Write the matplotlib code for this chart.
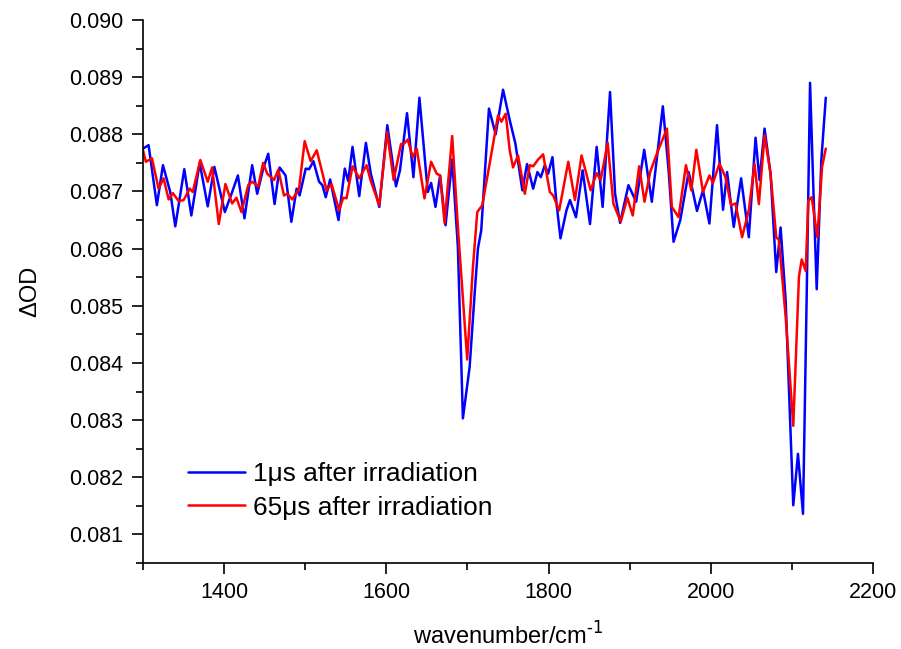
import matplotlib
matplotlib.use("Agg")
import matplotlib.pyplot as plt
from matplotlib.ticker import MultipleLocator, FormatStrFormatter

plt.rcParams['font.family'] = ['Liberation Sans', 'DejaVu Sans']

# 1 us after irradiation (blue)
wn_1us = [1300.0, 1306.9, 1317.1, 1324.6, 1333.6, 1339.8, 1350.9, 1359.6, 1369.9, 1379.8,
          1388.0, 1400.9, 1409.9, 1417.0, 1425.1, 1434.6, 1440.8, 1448.2, 1454.4, 1462.2,
          1468.4, 1475.8, 1482.9, 1489.4, 1493.1, 1500.6, 1504.8, 1510.1, 1517.1, 1521.2,
          1525.3, 1530.7, 1541.0, 1548.8, 1553.0, 1558.3, 1566.6, 1574.8, 1580.9, 1591.3,
          1601.2, 1611.9, 1616.8, 1625.5, 1633.4, 1640.8, 1651.1, 1655.2, 1660.6, 1666.3,
          1673.0, 1681.2, 1688.2, 1694.4, 1702.7, 1708.9, 1712.9, 1717.0, 1726.5, 1734.8,
          1743.9, 1752.1, 1759.1, 1767.7, 1773.5, 1781.0, 1786.3, 1790.5, 1795.4, 1799.5,
          1804.8, 1809.8, 1814.7, 1822.1, 1826.4, 1833.8, 1842.0, 1851.1, 1859.3, 1866.7,
          1875.8, 1882.0, 1888.2, 1898.5, 1908.0, 1917.9, 1927.3, 1940.9, 1948.0, 1954.1,
          1962.4, 1972.7, 1983.0, 1990.4, 1998.3, 2007.7, 2015.1, 2020.1, 2028.3, 2037.4,
          2046.9, 2055.2, 2060.1, 2066.3, 2073.7, 2080.7, 2086.1, 2092.3, 2101.7, 2107.5,
          2113.7, 2118.3, 2122.4, 2126.4, 2130.6, 2136.3, 2141.8]
od_1us = [0.08775, 0.08781, 0.08676, 0.08746, 0.08699, 0.08639, 0.08739, 0.08658, 0.08750, 0.08674,
          0.08743, 0.08664, 0.08699, 0.08728, 0.08653, 0.08746, 0.08696, 0.08740, 0.08766, 0.08678,
          0.08742, 0.08728, 0.08647, 0.08705, 0.08693, 0.08740, 0.08739, 0.08753, 0.08717, 0.08711,
          0.08690, 0.08721, 0.08650, 0.08740, 0.08718, 0.08778, 0.08692, 0.08785, 0.08731, 0.08673,
          0.08816, 0.08709, 0.08737, 0.08837, 0.08725, 0.08864, 0.08699, 0.08715, 0.08673, 0.08728,
          0.08641, 0.08756, 0.08603, 0.08303, 0.08393, 0.08522, 0.08600, 0.08632, 0.08845, 0.08800,
          0.08878, 0.08825, 0.08784, 0.08702, 0.08748, 0.08705, 0.08734, 0.08725, 0.08746, 0.08731,
          0.08760, 0.08679, 0.08618, 0.08667, 0.08685, 0.08655, 0.08737, 0.08643, 0.08778, 0.08673,
          0.08874, 0.08696, 0.08645, 0.08711, 0.08682, 0.08773, 0.08682, 0.08849, 0.08737, 0.08612,
          0.08650, 0.08734, 0.08666, 0.08702, 0.08644, 0.08816, 0.08668, 0.08734, 0.08638, 0.08723,
          0.08620, 0.08794, 0.08720, 0.08810, 0.08731, 0.08559, 0.08637, 0.08510, 0.08151, 0.08241,
          0.08136, 0.08522, 0.08890, 0.08708, 0.08529, 0.08755, 0.08864]

# 65 us after irradiation (red)
wn_65us = [1300.0, 1303.5, 1311.0, 1319.2, 1325.4, 1331.6, 1336.9, 1344.0, 1350.1, 1357.6,
           1361.3, 1370.7, 1379.8, 1385.2, 1393.4, 1401.6, 1409.9, 1415.2, 1421.4, 1429.7,
           1434.6, 1442.1, 1448.1, 1453.2, 1461.5, 1466.8, 1473.8, 1477.9, 1484.1, 1492.4,
           1499.3, 1506.7, 1514.2, 1523.3, 1526.2, 1532.4, 1541.9, 1546.8, 1550.9, 1558.3,
           1566.6, 1575.6, 1580.9, 1591.3, 1601.0, 1609.0, 1618.1, 1621.4, 1626.4, 1632.5,
           1637.5, 1647.0, 1655.2, 1662.2, 1666.3, 1671.8, 1681.2, 1688.2, 1699.7, 1706.8,
           1712.1, 1718.3, 1727.4, 1737.7, 1741.8, 1747.2, 1752.1, 1756.2, 1762.4, 1770.7,
           1776.9, 1781.0, 1787.2, 1793.3, 1801.6, 1805.7, 1813.1, 1824.3, 1832.5, 1840.7,
           1851.9, 1859.3, 1864.2, 1872.9, 1879.9, 1889.0, 1897.2, 1903.8, 1911.7, 1918.3,
           1925.3, 1933.5, 1945.9, 1952.0, 1960.3, 1969.4, 1976.0, 1982.2, 1990.4, 1998.3,
           2002.7, 2010.7, 2018.1, 2025.0, 2030.5, 2038.6, 2046.9, 2054.0, 2059.3, 2066.3,
           2073.7, 2080.7, 2084.0, 2092.3, 2101.7, 2108.7, 2112.1, 2117.0, 2120.3, 2124.4,
           2131.4, 2137.2, 2141.8]
od_65us = [0.08772, 0.08752, 0.08758, 0.08705, 0.08723, 0.08686, 0.08697, 0.08683, 0.08685, 0.08705,
           0.08699, 0.08755, 0.08717, 0.08742, 0.08643, 0.08713, 0.08679, 0.08689, 0.08664, 0.08711,
           0.08717, 0.08709, 0.08750, 0.08731, 0.08720, 0.08738, 0.08693, 0.08696, 0.08686, 0.08705,
           0.08788, 0.08753, 0.08772, 0.08720, 0.08702, 0.08713, 0.08667, 0.08689, 0.08688, 0.08744,
           0.08723, 0.08746, 0.08718, 0.08676, 0.08804, 0.08720, 0.08783, 0.08783, 0.08791, 0.08760,
           0.08775, 0.08688, 0.08752, 0.08731, 0.08728, 0.08645, 0.08797, 0.08638, 0.08406, 0.08568,
           0.08664, 0.08676, 0.08749, 0.08833, 0.08822, 0.08836, 0.08772, 0.08742, 0.08763, 0.08696,
           0.08746, 0.08744, 0.08756, 0.08765, 0.08699, 0.08693, 0.08667, 0.08752, 0.08685, 0.08763,
           0.08702, 0.08732, 0.08720, 0.08785, 0.08679, 0.08647, 0.08689, 0.08658, 0.08744, 0.08682,
           0.08734, 0.08766, 0.08810, 0.08673, 0.08655, 0.08746, 0.08702, 0.08773, 0.08699, 0.08728,
           0.08715, 0.08749, 0.08725, 0.08676, 0.08679, 0.08620, 0.08667, 0.08748, 0.08678, 0.08798,
           0.08731, 0.08620, 0.08615, 0.08481, 0.08290, 0.08551, 0.08581, 0.08561, 0.08684, 0.08690,
           0.08620, 0.08743, 0.08775]

labels = ["1\u03bcs after irradiation", "65\u03bcs after irradiation"]

W, H = 901, 649
fig = plt.figure(figsize=(W / 100, H / 100), dpi=100)
ax = fig.add_axes([143 / W, (H - 563) / H, (873 - 143) / W, (563 - 20) / H])

ax.plot(wn_1us, od_1us, color='#0000FF', lw=1.8, label=labels[0],
        solid_joinstyle='round', solid_capstyle='round')
ax.plot(wn_65us, od_65us, color='#FF0000', lw=1.8, label=labels[1],
        solid_joinstyle='round', solid_capstyle='round')

ax.set_xlim(1300, 2200)
ax.set_ylim(0.0805, 0.090)
ax.xaxis.set_minor_locator(MultipleLocator(100))
ax.yaxis.set_major_locator(MultipleLocator(0.001))
ax.yaxis.set_minor_locator(MultipleLocator(0.0005))
ax.yaxis.set_major_formatter(FormatStrFormatter('%.3f'))
ax.set_xticks([1400, 1600, 1800, 2000, 2200])

for s in ['top', 'right']:
    ax.spines[s].set_visible(False)
for s in ['left', 'bottom']:
    ax.spines[s].set_linewidth(1.2)

ax.tick_params(which='major', direction='out', length=8, width=1.2, labelsize=15.5, pad=6)
ax.tick_params(which='minor', direction='out', length=5, width=1.2)

ax.set_xlabel("wavenumber/cm$^{\\text{-1}}$", fontsize=17, labelpad=14)
ax.set_ylabel("\u0394OD", fontsize=17, labelpad=20)

leg = ax.legend(loc='lower left', bbox_to_anchor=(0.061, 0.08), frameon=False, fontsize=18.9,
                handlelength=2.2, handletextpad=0.3, labelspacing=0.37, borderpad=0, borderaxespad=0)
for h in leg.get_lines():
    h.set_linewidth(1.8)

fig.savefig("out.png", dpi=100)
